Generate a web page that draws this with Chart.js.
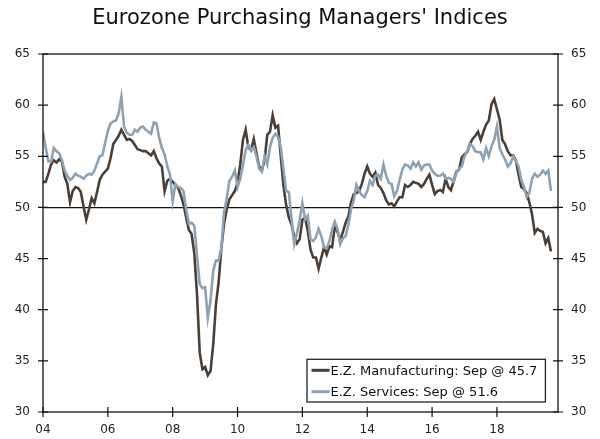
<!DOCTYPE html>
<html><head><meta charset="utf-8">
<script src="https://cdn.jsdelivr.net/npm/chart.js@4"></script>
<style>html,body{margin:0;padding:0;background:#fff}#wrap{width:600px;height:439px}</style>
</head><body><div id="wrap"><canvas id="c" width="600" height="439"></canvas></div>
<script>
const titleText = "Eurozone Purchasing Managers' Indices";
// month index 0 = Jan 2004
const xTickMonths = [0, 24, 48, 72, 96, 120, 144, 168];
const xTickLabels = ['04', '06', '08', '10', '12', '14', '16', '18'];
const yTicks = [30, 35, 40, 45, 50, 55, 60, 65];
const seriesNames = ['E.Z. Manufacturing: Sep @ 45.7', 'E.Z. Services: Sep @ 51.6'];

const manufacturing = [
  52.5, 52.5, 53.3, 54.2, 54.6, 54.4, 54.7, 54.5, 53.0, 52.3, 50.5, 51.6,
  52.0, 51.9, 51.5, 50.1, 48.8, 49.8, 50.9, 50.4, 51.5, 52.7, 53.2, 53.5,
  53.8, 54.8, 56.2, 56.6, 57.0, 57.6, 57.1, 56.6, 56.7, 56.5, 56.1, 55.7,
  55.6, 55.5, 55.5, 55.3, 55.1, 55.5, 54.8, 54.3, 54.0, 51.6, 52.6, 52.8,
  52.5, 52.2, 51.9, 51.2, 50.3, 49.0, 47.8, 47.4, 45.5, 41.5, 35.8, 34.2,
  34.4, 33.6, 34.0, 36.6, 40.5, 42.7, 46.0, 48.4, 49.8, 50.8, 51.2, 51.6,
  52.4, 54.2, 56.6, 57.6, 55.9, 55.6, 56.7, 55.3, 54.0, 53.6, 54.6, 57.1,
  57.4, 59.0, 57.8, 58.0, 55.0, 52.1, 50.2, 49.0, 48.3, 47.1, 46.5, 46.9,
  48.8, 49.0, 47.7, 45.9, 45.1, 45.1, 44.0, 45.1, 46.1, 45.4, 46.2, 46.1,
  48.2, 47.6, 46.8, 47.6, 48.5, 49.1, 50.5, 51.3, 51.4, 51.6, 52.3, 53.3,
  54.0, 53.3, 53.0, 53.4, 52.2, 51.9, 51.4, 50.7, 50.3, 50.4, 50.1, 50.6,
  51.0, 51.0, 52.2, 52.0, 52.2, 52.5, 52.4, 52.3, 52.0, 52.3, 52.8, 53.2,
  52.2, 51.3, 51.6, 51.7, 51.5, 52.8, 52.0, 51.7, 52.6, 53.5, 53.7, 54.9,
  55.2, 55.4, 56.2, 56.7, 57.0, 57.4, 56.6, 57.4, 58.1, 58.5, 60.1, 60.6,
  59.6, 58.6, 56.6, 56.2, 55.5, 55.1, 55.1, 54.6, 53.2, 52.0, 51.8, 51.4,
  50.5, 49.3, 47.5, 47.9, 47.7, 47.6, 46.5, 47.0, 45.7
];

const services = [
  57.4, 55.8, 54.5, 54.5, 55.8, 55.5, 55.3, 54.6, 53.6, 53.1, 52.7, 52.9,
  53.3, 53.1, 53.0, 52.8, 53.1, 53.3, 53.2, 53.6, 54.3, 55.0, 55.1, 56.3,
  57.5, 58.2, 58.4, 58.5, 59.2, 60.8, 57.9, 57.3, 57.1, 57.1, 57.6, 57.4,
  57.8, 57.9, 57.6, 57.4, 57.2, 58.3, 58.2, 56.8, 55.8, 55.2, 54.0, 53.2,
  50.6, 52.3, 52.0, 51.9, 51.6, 49.8, 48.4, 48.5, 48.2, 45.3, 42.5, 42.1,
  42.2, 39.2, 40.9, 43.8, 44.8, 44.8, 46.0, 49.5, 50.9, 52.6, 53.0, 53.6,
  52.0, 52.8, 54.1, 55.6, 56.1, 55.6, 55.9, 55.0, 53.8, 53.5, 55.0, 54.2,
  55.9, 56.8, 57.2, 56.9, 55.9, 53.7, 51.6, 51.5, 48.8, 46.4, 47.5, 48.8,
  50.4, 48.8, 49.2, 46.9, 46.7, 47.1, 47.9, 47.2, 46.1, 46.0, 46.7, 47.8,
  48.6, 47.9, 46.4, 47.0, 47.2, 48.3, 49.8, 50.7, 52.2, 51.6, 51.2, 51.0,
  51.6, 52.6, 52.2, 53.1, 53.2, 52.8, 54.2, 53.1, 52.4, 52.3, 51.1, 51.6,
  52.7, 53.7, 54.2, 54.1, 53.8, 54.4, 54.0, 54.4, 53.7, 54.1, 54.2, 54.2,
  53.6, 53.3, 53.1, 53.1, 53.3, 52.8, 52.9, 52.8, 52.5, 53.4, 53.8, 54.0,
  55.0, 55.5, 56.2, 56.0, 55.5, 55.4, 55.4, 54.7, 55.8, 55.0, 56.0, 56.6,
  57.9, 55.8, 55.2, 54.7, 54.0, 54.3, 55.0, 54.5, 54.0, 52.7, 52.0, 51.0,
  51.4, 52.8, 53.3, 53.0, 53.2, 53.6, 53.3, 53.6, 51.6
];

const mfgColor = '#4b4037';
const svcColor = '#8da2b2';
const FONT = 'DejaVu Sans';

const framePlugin = {
  id: 'frameTicks',
  afterDraw(chart) {
    const { ctx, chartArea: a, scales } = chart;
    ctx.save();
    ctx.strokeStyle = '#111';
    ctx.lineWidth = 1.3;
    ctx.strokeRect(a.left, a.top, a.right - a.left, a.bottom - a.top);
    ctx.lineWidth = 1.2;
    ctx.beginPath();
    yTicks.forEach(v => {
      const y = scales.y.getPixelForValue(v);
      ctx.moveTo(a.left - 5, y); ctx.lineTo(a.left + 5, y);
      ctx.moveTo(a.right - 5, y); ctx.lineTo(a.right + 5, y);
    });
    xTickMonths.forEach(m => {
      const x = scales.x.getPixelForValue(m);
      ctx.moveTo(x, a.bottom - 5); ctx.lineTo(x, a.bottom + 5);
    });
    ctx.stroke();

    // legend box
    const w = 238.4, h = 42.7;
    const right = a.right - 12.6, bottom = a.bottom - 10;
    const left = right - w, top = bottom - h;
    ctx.fillStyle = '#fff';
    ctx.fillRect(left, top, w, h);
    ctx.strokeStyle = '#222';
    ctx.lineWidth = 1.3;
    ctx.strokeRect(left, top, w, h);
    const colors = [mfgColor, svcColor];
    const rowsY = [top + 11, top + 32.4];
    ctx.font = '13px "' + FONT + '"';
    ctx.textBaseline = 'alphabetic';
    seriesNames.forEach((name, i) => {
      ctx.strokeStyle = colors[i];
      ctx.lineWidth = 3;
      ctx.beginPath();
      ctx.moveTo(left + 4.5, rowsY[i]);
      ctx.lineTo(left + 22.5, rowsY[i]);
      ctx.stroke();
      ctx.fillStyle = '#111';
      ctx.fillText(name, left + 23.5, rowsY[i] + 4.7);
    });
    ctx.restore();
  }
};

const yAxisCommon = {
  type: 'linear', min: 30, max: 65,
  afterBuildTicks: s => { s.ticks = yTicks.map(v => ({ value: v })); },
  ticks: { font: { family: FONT, size: 12 }, color: '#222', padding: 8 },
  border: { display: false }
};

new Chart(document.getElementById('c'), {
  type: 'line',
  data: {
    datasets: [
      { label: seriesNames[0], data: manufacturing.map((v, i) => ({ x: i, y: v })),
        borderColor: mfgColor, borderWidth: 2.6, pointRadius: 0, tension: 0, order: 1, yAxisID: 'y' },
      { label: seriesNames[1], data: services.map((v, i) => ({ x: i, y: v })),
        borderColor: svcColor, borderWidth: 2.6, pointRadius: 0, tension: 0, order: 0, yAxisID: 'y' }
    ]
  },
  options: {
    responsive: false,
    animation: false,
    devicePixelRatio: 1,
    layout: { padding: 0 },
    plugins: {
      legend: { display: false },
      tooltip: { enabled: false },
      title: {
        display: true, text: titleText, color: '#111',
        font: { family: FONT, size: 21, weight: 'normal' },
        padding: { top: 6, bottom: 22.8 }
      }
    },
    scales: {
      x: {
        type: 'linear', min: 0, max: 190.6, position: 'bottom',
        afterBuildTicks: s => { s.ticks = xTickMonths.map(v => ({ value: v })); },
        afterFit: s => { s.height = 27; },
        ticks: {
          font: { family: FONT, size: 12 }, color: '#222', padding: 6, maxRotation: 0, autoSkip: false,
          callback: v => xTickLabels[xTickMonths.indexOf(v)]
        },
        grid: { drawOnChartArea: false, drawTicks: true, tickLength: 5, color: 'rgba(0,0,0,0)' },
        border: { display: false }
      },
      y: Object.assign({}, yAxisCommon, {
        position: 'left',
        afterFit: s => { s.width = 43; },
        grid: {
          drawOnChartArea: true, drawTicks: true, tickLength: 5, lineWidth: 1.2,
          color: c => (c.tick && c.tick.value === 50) ? '#111' : 'rgba(0,0,0,0)',
          tickColor: 'rgba(0,0,0,0)'
        }
      }),
      y2: Object.assign({}, yAxisCommon, {
        position: 'right',
        afterFit: s => { s.width = 42; },
        grid: { drawOnChartArea: false, drawTicks: true, tickLength: 5, color: 'rgba(0,0,0,0)' }
      })
    }
  },
  plugins: [framePlugin]
});
</script>
</body></html>
